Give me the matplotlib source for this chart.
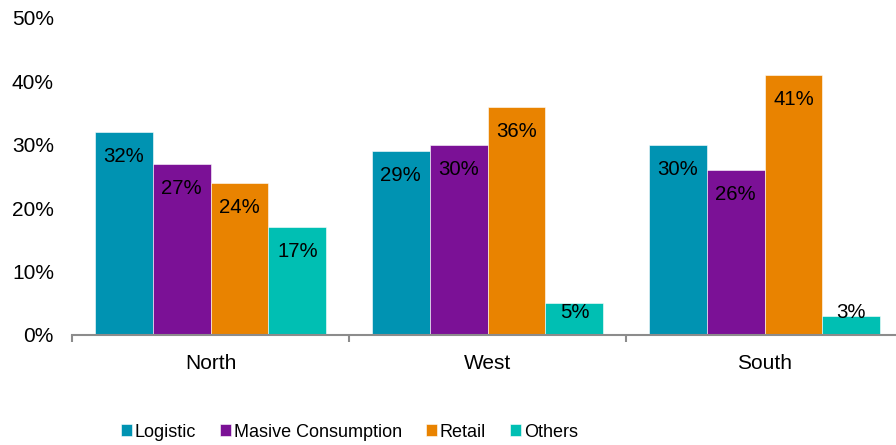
import numpy as np
import matplotlib.pyplot as plt

plt.rcParams['font.family'] = ['Liberation Sans', 'DejaVu Sans']

regions = ["North", "West", "South"]
series = ["Logistic", "Masive Consumption", "Retail", "Others"]
logistic = [32, 29, 30]
consumption = [27, 30, 26]
retail = [24, 36, 41]
others = [17, 5, 3]
colors = ["#0093B2", "#7B1196", "#E98300", "#00BFB3"]

values = [logistic, consumption, retail, others]

fig = plt.figure(figsize=(8.96, 4.45), dpi=100)
ax = fig.add_axes([0.0804, 0.2472, 0.9275, 0.7124])

x = np.arange(len(regions))
width = 0.209
for i, (name, vals) in enumerate(zip(series, values)):
    pos = x + (i - 1.5) * width
    ax.bar(pos, np.array(vals) / 100, width, color=colors[i], label=name,
           edgecolor="white", linewidth=0.4)
    for p, v in zip(pos, vals):
        y = max(v / 100 - 0.039, 0.036)
        ax.text(p, y, f"{v}%", ha="center", va="center", fontsize=14.7, color="black")

ax.set_xlim(-0.5, 2.5)
ax.set_ylim(0, 0.5)
ax.set_yticks(np.arange(0, 0.51, 0.1))
ax.set_yticklabels([f"{int(round(t * 100))}%" for t in np.arange(0, 0.51, 0.1)], fontsize=15)
ax.tick_params(axis="y", length=0, pad=13)

# category labels in the middle, tick marks on the boundaries
ax.set_xticks(x)
ax.set_xticklabels(regions, fontsize=15)
ax.tick_params(axis="x", which="major", length=0, pad=14)
ax.set_xticks([-0.5, 0.5, 1.5, 2.5], minor=True)
ax.tick_params(axis="x", which="minor", length=5, width=1.5, color="#8C8C8C")

for s in ["top", "right", "left"]:
    ax.spines[s].set_visible(False)
ax.spines["bottom"].set_color("#8C8C8C")
ax.spines["bottom"].set_linewidth(1.5)

fig.legend(loc="center", bbox_to_anchor=(0.39, 0.029), ncol=4, frameon=False,
           fontsize=13, handlelength=0.6, handleheight=0.6, handletextpad=0.15,
           columnspacing=1.35)

fig.savefig("out.png", dpi=100)
